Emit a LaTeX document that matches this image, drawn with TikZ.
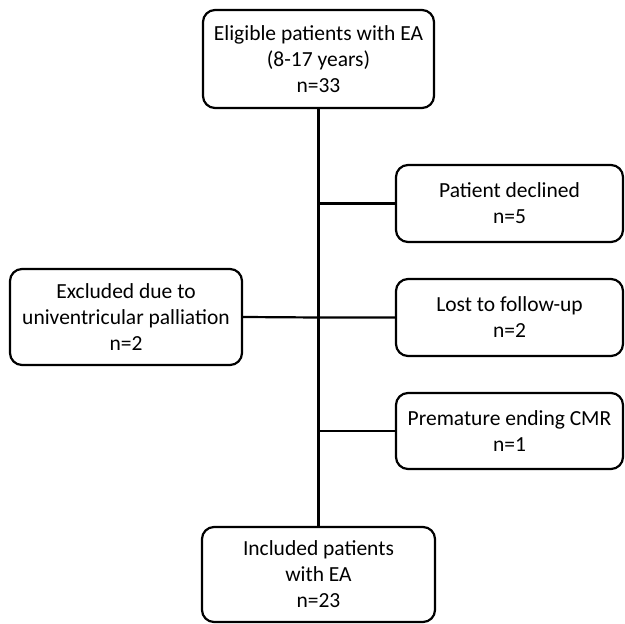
\documentclass[tikz,border=0pt]{standalone}
\usepackage{fontspec}
\setmainfont{Carlito}
\usepackage{tikz}
\usetikzlibrary{calc}

\begin{document}
\begin{tikzpicture}[x=1pt, y=-1pt,
  flowbox/.style={draw, line width=2.2pt, rounded corners=12pt, align=center,
    inner sep=0pt, font=\fontsize{21.5}{26}\selectfont},
  link/.style={line width=2.2pt}]
\useasboundingbox (0,0) rectangle (625,624);
\node[flowbox, minimum width=231pt, minimum height=98pt] (eligible) at (318.5,59) {Eligible patients with EA\\(8-17 years)\\n=33};
\node[flowbox, minimum width=227pt, minimum height=77pt] (declined) at (509.5,203.5) {Patient declined\\n=5};
\node[flowbox, minimum width=232pt, minimum height=96pt] (excluded) at (126,317) {Excluded due to\\univentricular palliation\\n=2};
\node[flowbox, minimum width=227pt, minimum height=77pt] (lost) at (509.5,317.5) {Lost to follow-up\\n=2};
\node[flowbox, minimum width=227pt, minimum height=76pt] (premature) at (509.5,431) {Premature ending CMR\\n=1};
\node[flowbox, minimum width=233pt, minimum height=95pt] (included) at (318.5,574.5) {Included patients\\with EA\\n=23};
% trunk and side branches
\draw[link] (eligible.south) -- (included.north);
\coordinate (j1) at (eligible.south |- declined.west);
\coordinate (j2) at (eligible.south |- lost.west);
\coordinate (j3) at (eligible.south |- premature.west);
\draw[link] (j1) -- (declined.west);
\draw[link] (excluded.east) -- (j2) -- (lost.west);
\draw[link] (j3) -- (premature.west);
\end{tikzpicture}
\end{document}
